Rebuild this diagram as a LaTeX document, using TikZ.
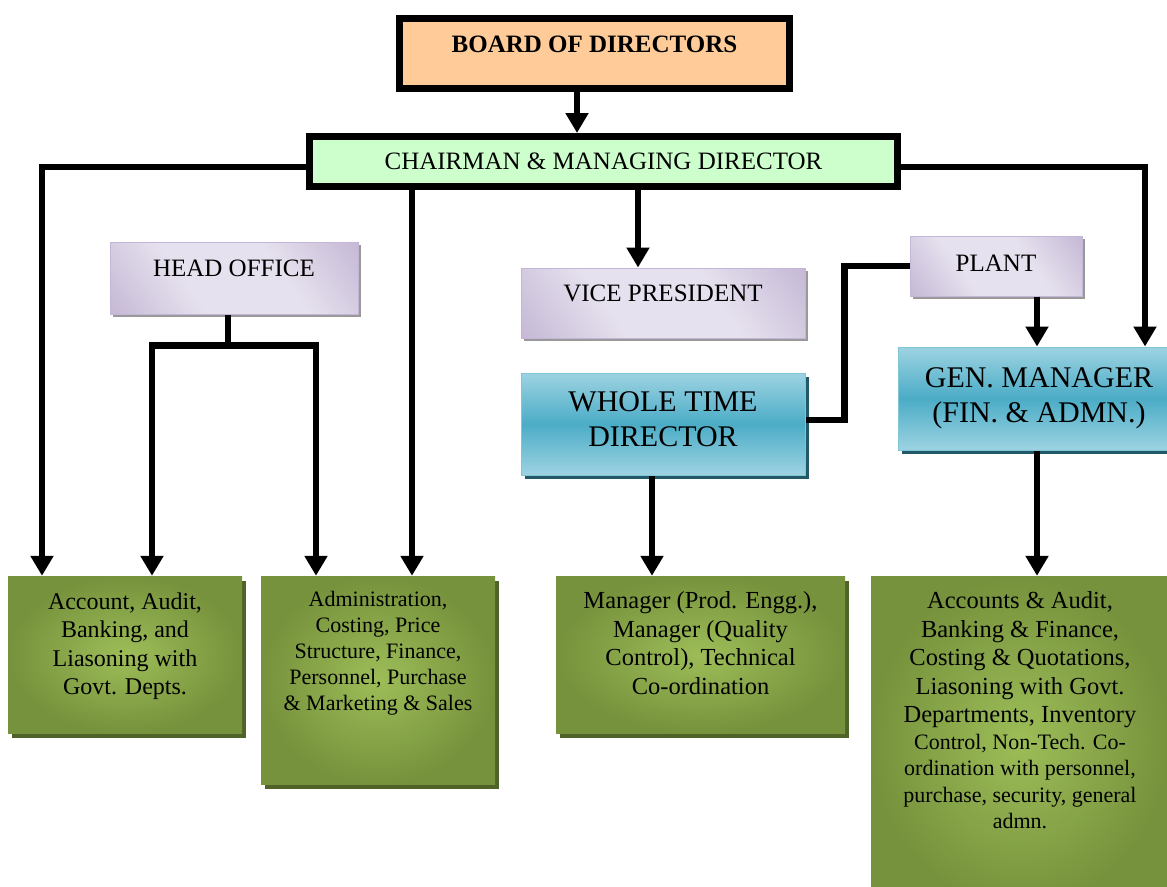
\documentclass[tikz,border=0pt]{standalone}
\usepackage{fontspec}
\setmainfont{Liberation Serif}
\usetikzlibrary{positioning,arrows.meta,calc,shadows}
\definecolor{peach}{HTML}{FFCC99}
\definecolor{mint}{HTML}{CCFFCC}
\definecolor{lavL}{HTML}{E6E1EE}
\definecolor{lavD}{HTML}{AF9DC5}
\definecolor{lavB}{HTML}{C3B6D6}
\definecolor{tealL}{HTML}{9DD3E2}
\definecolor{tealD}{HTML}{4BACC6}
\definecolor{tealS}{HTML}{215968}
\definecolor{grnL}{HTML}{9DBD58}
\definecolor{grnD}{HTML}{76923C}
\definecolor{grnS}{HTML}{4F6228}
\pgfdeclarehorizontalshading{lavshade}{100bp}{color(0bp)=(lavD); color(38bp)=(lavL); color(62bp)=(lavL); color(100bp)=(lavD)}
\newcommand{\topbox}[4]{\parbox[c][#1][t]{#2}{\centering\vspace*{#3}#4}}

\begin{document}
\begin{tikzpicture}[
  x=1pt,y=-1pt,
  font=\fontsize{25}{30}\selectfont,
  conn/.style={line width=6.5pt},
  arr/.style={conn, -{Triangle[width=22pt,length=20pt]}},
  chief/.style={draw=black, line width=7pt, inner sep=0pt},
  lav/.style={draw=lavB, line width=1pt, shading=lavshade, shading angle=35, inner sep=0pt,
    drop shadow={shadow xshift=3pt, shadow yshift=-3pt, fill=black!40, opacity=1}},
  blu/.style={draw=tealD!70, line width=1pt, top color=tealL, bottom color=tealL, middle color=tealD,
    inner sep=0pt, align=center, font=\fontsize{30}{35}\selectfont,
    drop shadow={shadow xshift=4pt, shadow yshift=-4pt, fill=tealS, opacity=1}},
  grn/.style={inner color=grnL, outer color=grnD, inner sep=0pt,
    drop shadow={shadow xshift=4pt, shadow yshift=-5pt, fill=grnS, opacity=1}}
]
\fill[white] (0,0) rectangle (1167,886);
\useasboundingbox (0,0) rectangle (1167,886);

% top: board and chairman
\node[chief, fill=peach, font=\fontsize{25}{30}\selectfont\bfseries] (bod) at (594.5,53.5)
  {\topbox{70pt}{390pt}{17pt}{BOARD OF DIRECTORS}};
\node[chief, fill=mint, minimum width=588pt, minimum height=50pt] (cmd) at (603.5,161.5)
  {CHAIRMAN \& MANAGING DIRECTOR};

% lavender offices
\node[lav] (ho) at (234,278) {\topbox{72pt}{248pt}{17.5pt}{HEAD OFFICE}};
\node[lav] (vp) at (663,303) {\topbox{70pt}{284pt}{16.5pt}{VICE PRESIDENT}};
\node[lav] (pl) at (996,266) {\topbox{60pt}{172pt}{18.5pt}{PLANT}};

% blue directors
\node[blu] (wtd) at (663,424) {\topbox{102pt}{284pt}{19pt}{WHOLE TIME\\DIRECTOR}};
\node[blu, minimum width=282pt, minimum height=103pt] (gm) at (1039,398.5) {GEN. MANAGER\\(FIN. \& ADMN.)};

% green departments
\node[grn, font=\fontsize{24}{28.5}\selectfont] (acc) at (125,654.5)
  {\topbox{157pt}{234pt}{16.5pt}{Account, Audit,\\Banking, and\\Liasoning with\\Govt. Depts.}};
\node[grn, font=\fontsize{22}{26}\selectfont] (adm) at (378,680)
  {\topbox{208pt}{234pt}{15.5pt}{Administration,\\Costing, Price\\Structure, Finance,\\Personnel, Purchase\\\& Marketing \& Sales}};
\node[grn, font=\fontsize{24.5}{28.5}\selectfont] (mgr) at (700.5,654.5)
  {\topbox{157pt}{289pt}{15.5pt}{Manager (Prod. Engg.),\\Manager (Quality\\Control), Technical\\Co-ordination}};
\node[grn, font=\fontsize{24.5}{28.5}\selectfont] (gma) at (1020,741)
  {\topbox{330pt}{298pt}{15.5pt}{Accounts \& Audit,\\Banking \& Finance,\\Costing \& Quotations,\\Liasoning with Govt.\\Departments, Inventory\par
   \fontsize{22}{26.5}\selectfont Control, Non-Tech. Co-\\ordination with personnel,\\purchase, security, general\\admn.}};

% connectors
\draw[arr] ([xshift=-17.5pt]bod.south) -- ([xshift=-17.5pt]bod.south |- cmd.north);
\draw[arr] ([yshift=-5.5pt]cmd.west) -| ([xshift=-83pt]acc.north);
\draw[arr] ([yshift=-5.5pt]cmd.east) -| ([xshift=106pt]gm.north);
\draw[arr] ([xshift=34pt]adm.north |- cmd.south) -- ([xshift=34pt]adm.north);
\draw[arr] ([xshift=-25pt]vp.north |- cmd.south) -- ([xshift=-25pt]vp.north);

% head office split
\draw[conn] ([xshift=-6pt]ho.south) -- ++(0,31) coordinate (hoj);
\foreach \dx/\dst in {27/acc,-62/adm}
  \draw[arr] (hoj) -| ([xshift=\dx pt]\dst.north);

% plant links
\draw[conn] (pl.west) -- ++(-65,0) |- ([yshift=4pt]wtd.east);
\draw[arr] ([xshift=41pt]pl.south) -- ([xshift=41pt]pl.south |- gm.north);

% down to departments
\draw[arr] ([xshift=-11pt]wtd.south) -- ([xshift=-11pt]wtd.south |- mgr.north);
\draw[arr] ([xshift=-2pt]gm.south) -- ([xshift=-2pt]gm.south |- gma.north);

\end{tikzpicture}
\end{document}
